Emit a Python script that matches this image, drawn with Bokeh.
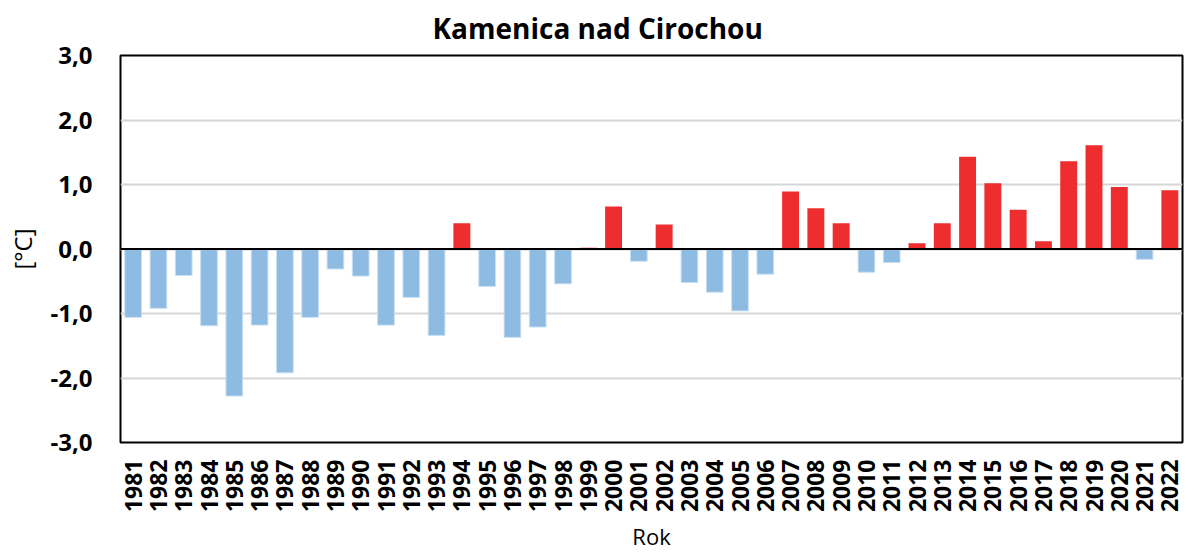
import math
from bokeh.plotting import figure
from bokeh.models import ColumnDataSource, FixedTicker, CustomJSTickFormatter, Span
from bokeh.embed import file_html
from bokeh.resources import INLINE

years = [str(y) for y in range(1981, 2023)]
values = [-1.06, -0.92, -0.41, -1.19, -2.28, -1.18, -1.92, -1.06, -0.31, -0.42,
          -1.18, -0.75, -1.34, 0.40, -0.58, -1.37, -1.21, -0.54, 0.02, 0.66,
          -0.19, 0.38, -0.52, -0.67, -0.96, -0.39, 0.89, 0.63, 0.40, -0.36,
          -0.21, 0.09, 0.40, 1.43, 1.02, 0.61, 0.12, 1.36, 1.61, 0.96,
          -0.16, 0.91]
y_ticks = [-3, -2, -1, 0, 1, 2, 3]

title_text = "Kamenica nad Cirochou"
x_label = "Rok"
y_label = "[°C]"

FONT = "Open Sans"

neg = ColumnDataSource(dict(x=[y for y, v in zip(years, values) if v < 0],
                            top=[v for v in values if v < 0]))
pos = ColumnDataSource(dict(x=[y for y, v in zip(years, values) if v >= 0],
                            top=[v for v in values if v >= 0]))

p = figure(x_range=years, y_range=(-3, 3), width=1189, height=554,
           output_backend="svg", toolbar_location=None,
           min_border_left=120, min_border_right=7, min_border_top=55,
           min_border_bottom=112, title=title_text)

p.title.align = "left"
p.title.vertical_align = "top"
p.title.text_font = FONT
p.title.text_font_size = "28px"
p.title.text_font_style = "bold"
p.title.text_color = "black"
p.title.offset = 312
p.title.standoff = 14

p.vbar(x="x", top="top", bottom=0, width=0.66, source=neg,
       fill_color="#8DBBE2", line_color="#C9DFF2", line_width=1)
p.vbar(x="x", top="top", bottom=0, width=0.67, source=pos,
       fill_color="#EE2E2E", line_color=None)

p.add_layout(Span(location=0, dimension="width", line_color="black", line_width=2))

p.outline_line_color = "black"
p.outline_line_width = 2
p.outline_line_alpha = 1

p.xgrid.grid_line_color = None
p.ygrid.grid_line_color = "#D6D6D6"
p.ygrid.grid_line_width = 2

p.yaxis.ticker = FixedTicker(ticks=y_ticks)
p.yaxis.formatter = CustomJSTickFormatter(code="return tick.toFixed(1).replace('.', ',');")

for ax in (p.xaxis[0], p.yaxis[0]):
    ax.axis_line_color = None
    ax.major_tick_line_color = None
    ax.minor_tick_line_color = None
    ax.major_tick_out = 0
    ax.major_tick_in = 0
    ax.major_label_text_font = FONT
    ax.major_label_text_font_style = "bold"
    ax.major_label_text_color = "black"
    ax.axis_label_text_font = FONT
    ax.axis_label_text_font_style = "normal"
    ax.axis_label_text_color = "black"

p.yaxis.major_label_text_font_size = "24px"
p.yaxis.major_label_standoff = 28
p.yaxis.axis_label = y_label
p.yaxis.axis_label_text_font_size = "24px"
p.yaxis.axis_label_standoff = 8

p.xaxis.major_label_orientation = math.pi / 2
p.xaxis.major_label_text_font_size = "23px"
p.xaxis.major_label_standoff = 17
p.xaxis.axis_label = x_label
p.xaxis.axis_label_text_font_size = "22px"
p.xaxis.axis_label_standoff = 6

p.background_fill_color = "white"
p.border_fill_color = "white"

open("out.html", "w").write(file_html(p, INLINE))
